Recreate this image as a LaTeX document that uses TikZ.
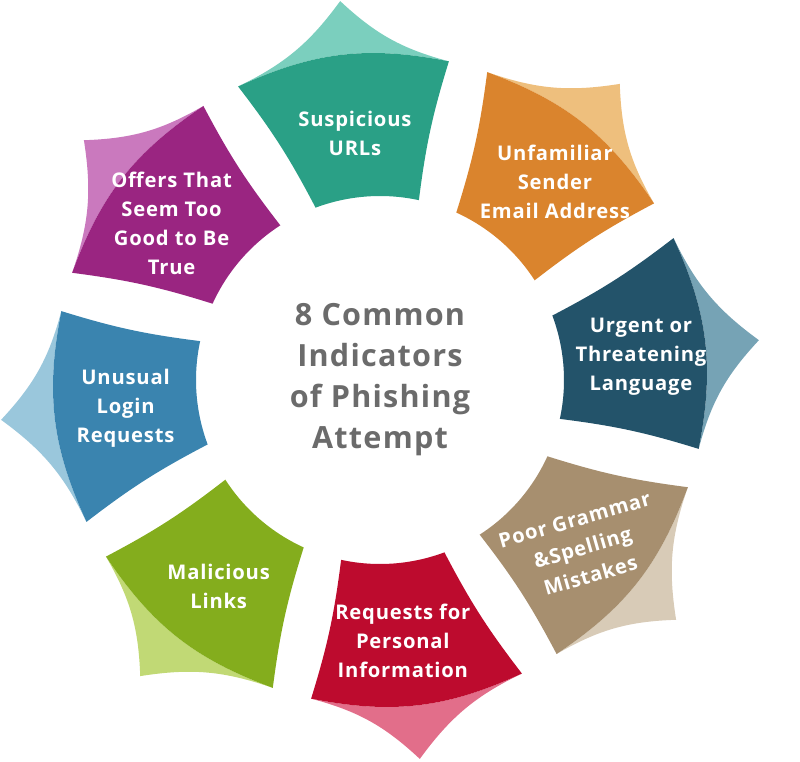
\documentclass[tikz,border=0pt]{standalone}
\usepackage{fontspec}
\setmainfont{Open Sans}[LetterSpace=4]
\usepackage{tikz}

\definecolor{tealD}{HTML}{2AA086}
\definecolor{tealL}{HTML}{7BCFBE}
\definecolor{orangeD}{HTML}{DA842D}
\definecolor{orangeL}{HTML}{EEBF7D}
\definecolor{navyD}{HTML}{23536A}
\definecolor{navyL}{HTML}{76A3B5}
\definecolor{tanD}{HTML}{A78F6F}
\definecolor{tanL}{HTML}{D8CBB7}
\definecolor{redD}{HTML}{BD0B2E}
\definecolor{redL}{HTML}{E26E8A}
\definecolor{greenD}{HTML}{84AD1D}
\definecolor{greenL}{HTML}{C1D975}
\definecolor{blueD}{HTML}{3A84AF}
\definecolor{blueL}{HTML}{9AC7DC}
\definecolor{purpleD}{HTML}{9A2581}
\definecolor{purpleL}{HTML}{CA79BE}
\definecolor{titlegray}{HTML}{6B6B6B}

\tikzset{
    indicator/.style={text=white,align=center,inner sep=0pt,
        font=\bfseries\fontsize{11.5}{16.5}\selectfont},
    headline/.style={text=titlegray,align=center,inner sep=0pt,
        font=\bfseries\fontsize{17.4}{23.3}\selectfont}
}

\begin{document}
\begin{tikzpicture}[x=0.02cm,y=0.02cm]
    \useasboundingbox (-380,-381) rectangle (420,380);
    \foreach \ang/\dk/\lt/\la/\lr/\rot/\txt [count=\i] in {
        96/tealD/tealL/95.8/248/0/{Suspicious\\URLs},
        51/orangeD/orangeL/48.5/264/0/{Unfamiliar\\Sender\\Email Address},
        6/navyD/navyL/5/262/0/{Urgent or\\Threatening\\Language},
        -39/tanD/tanL/-39.6/263/16/{Poor Grammar\\\&Spelling\\Mistakes},
        -84/redD/redL/-85/262/0/{Requests for\\Personal\\Information},
        -129/greenD/greenL/-128/262/0/{Malicious\\Links},
        -174/blueD/blueL/186.3/256/0/{Unusual\\Login\\Requests},
        141/purpleD/purpleL/143/261/0/{Offers That\\Seem Too\\Good to Be\\True}}
    {
        \fill[\lt] (\ang:381) to[bend left=14] (\ang+19.8:326)
            to[bend left=18] (\ang-18.2:326) to[bend left=14] (\ang:381) -- cycle;
        \fill[\dk] (\ang+19.8:326) to[bend left=5] (\ang+14.5:184)
            arc[start angle=\ang+14.5,end angle=\ang-18.2,radius=184]
            to[bend left=5] (\ang-18.2:326) to[bend right=18] (\ang+19.8:326) -- cycle;
        \node[indicator,rotate=\rot] (ind\i) at (\la:\lr) {\txt};
    }
    \node[headline] (title) at (0,0) {8 Common\\Indicators\\of Phishing\\Attempt};
\end{tikzpicture}
\end{document}
